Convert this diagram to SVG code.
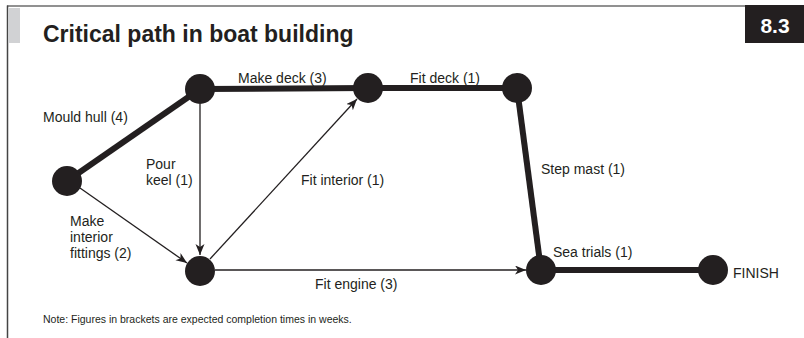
<svg xmlns="http://www.w3.org/2000/svg" width="804" height="338" viewBox="0 0 804 338">
<style>
.t{font-family:"Liberation Sans",Arial,sans-serif;font-size:14px;fill:#231f20}
.thick{stroke:#231f20;stroke-width:6;fill:none}
.thin{stroke:#231f20;stroke-width:1.3;fill:none}
.node{fill:#231f20}
</style>
<defs>
<marker id="arr" markerUnits="userSpaceOnUse" markerWidth="12" markerHeight="10" refX="11" refY="4.5" orient="auto">
<path d="M0,0 L11,4.5 L0,9 L3,4.5 Z" fill="#231f20"/>
</marker>
</defs>
<rect width="804" height="338" fill="#fff"/>
<g id="frame">
<line x1="7" y1="6" x2="745" y2="6" stroke="#6d6d6d" stroke-width="1.5"/>
<line x1="7.5" y1="5.5" x2="7.5" y2="338" stroke="#444" stroke-width="1.5"/>
<rect x="8" y="8" width="12" height="35" fill="#d1d2d4"/>
<rect x="745" y="5" width="59" height="38" fill="#231f20"/>
<text x="775" y="33" text-anchor="middle" style="font-family:'Liberation Sans',Arial,sans-serif;font-weight:bold;font-size:21px;fill:#fff">8.3</text>
<text x="43" y="42" style="font-family:'Liberation Sans',Arial,sans-serif;font-weight:bold;font-size:23px;fill:#231f20">Critical path in boat building</text>
</g>
<g id="connectors">
<line class="thick" x1="67" y1="181" x2="200" y2="89"/>
<line class="thick" x1="200" y1="89" x2="368" y2="88"/>
<line class="thick" x1="368" y1="88" x2="517" y2="88"/>
<line class="thick" x1="517" y1="88" x2="541" y2="270"/>
<line class="thick" x1="541" y1="270" x2="713" y2="270"/>
<line class="thin" x1="200" y1="104" x2="200" y2="255" marker-end="url(#arr)"/>
<line class="thin" x1="80" y1="188" x2="187" y2="263" marker-end="url(#arr)"/>
<line class="thin" x1="210" y1="259" x2="357" y2="99" marker-end="url(#arr)"/>
<line class="thin" x1="215" y1="270" x2="526" y2="270" marker-end="url(#arr)"/>
</g>
<g id="nodeA"><circle class="node" cx="67" cy="181" r="15"/></g>
<g id="nodeB"><circle class="node" cx="200" cy="89" r="15"/></g>
<g id="nodeC"><circle class="node" cx="368" cy="88" r="15"/></g>
<g id="nodeD"><circle class="node" cx="517" cy="88" r="15"/></g>
<g id="nodeE"><circle class="node" cx="200" cy="271" r="15"/></g>
<g id="nodeF"><circle class="node" cx="541" cy="270" r="15"/></g>
<g id="nodeG"><circle class="node" cx="713" cy="270" r="15"/><text class="t" x="733" y="278">FINISH</text></g>
<g id="labels">
<text class="t" x="43" y="122">Mould hull (4)</text>
<text class="t" x="238" y="83">Make deck (3)</text>
<text class="t" x="410" y="83">Fit deck (1)</text>
<text class="t" x="146" y="169">Pour</text>
<text class="t" x="146" y="185">keel (1)</text>
<text class="t" x="301" y="185">Fit interior (1)</text>
<text class="t" x="70" y="226">Make</text>
<text class="t" x="70" y="242">interior</text>
<text class="t" x="70" y="258">fittings (2)</text>
<text class="t" x="541" y="174">Step mast (1)</text>
<text class="t" x="553" y="257">Sea trials (1)</text>
<text class="t" x="315" y="289">Fit engine (3)</text>
<text class="t" x="43" y="323" style="font-size:10.5px">Note: Figures in brackets are expected completion times in weeks.</text>
</g>
</svg>
